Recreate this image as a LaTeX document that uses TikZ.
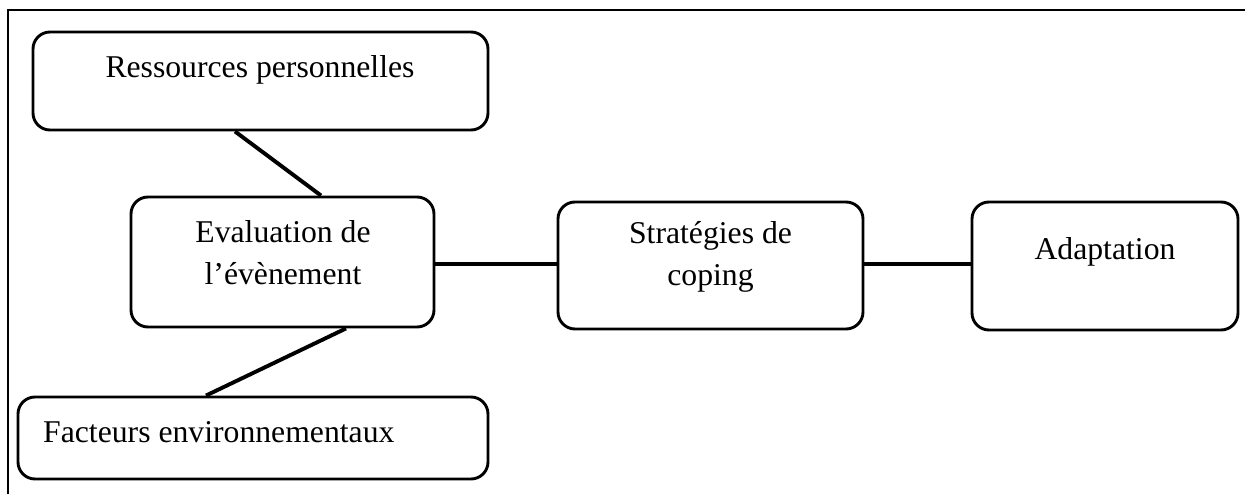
\documentclass[tikz,border=0pt]{standalone}
\usepackage{fontspec}
\setmainfont{Liberation Serif}
\begin{document}
\begin{tikzpicture}[x=1pt,y=-1pt,
  box/.style={draw, rounded corners=17pt, line width=2.9pt, inner sep=0pt, minimum width=#1},
  link/.style={line width=3.9pt},
  lbl/.style={inner sep=0pt, font=\fontsize{31.7}{42}\selectfont}]
\useasboundingbox (0,0) rectangle (1245,494);
% frame
\draw[line width=2.5pt] (8,494) -- (8,10) -- (1245,10);
% boxes
\node[box=455pt, minimum height=98pt] (R) at (260.5,81) {};
\node[box=303pt, minimum height=130pt] (E) at (282.5,262) {};
\node[box=305pt, minimum height=127pt] (S) at (710.5,265.5) {};
\node[box=266pt, minimum height=128pt] (A) at (1105,266) {};
\node[box=470pt, minimum height=82pt] (F) at (253,438) {};
% texts
\node[lbl, anchor=base] (Rt) at (260,78) {Ressources personnelles};
\node[lbl, anchor=base] (Et) at (283,243) {\renewcommand\arraystretch{1}\begin{tabular}[t]{@{}c@{}}Evaluation de\\ l’évènement\end{tabular}};
\node[lbl, anchor=base] (St) at (710.5,244) {\renewcommand\arraystretch{1}\begin{tabular}[t]{@{}c@{}}Stratégies de\\ coping\end{tabular}};
\node[lbl, anchor=base] (At) at (1105,260) {Adaptation};
\node[lbl, anchor=base west] (Ft) at (43,442) {Facteurs environnementaux};
% connectors
\draw[link] (R.south -| 235,0) -- (E.north -| 321,0);
\draw[link] (E.south -| 346,0) -- (F.north -| 206,0);
\draw[link] (E.east |- 0,264) -- (S.west |- 0,264);
\draw[link] (S.east |- 0,264) -- (A.west |- 0,264);
\end{tikzpicture}
\end{document}
